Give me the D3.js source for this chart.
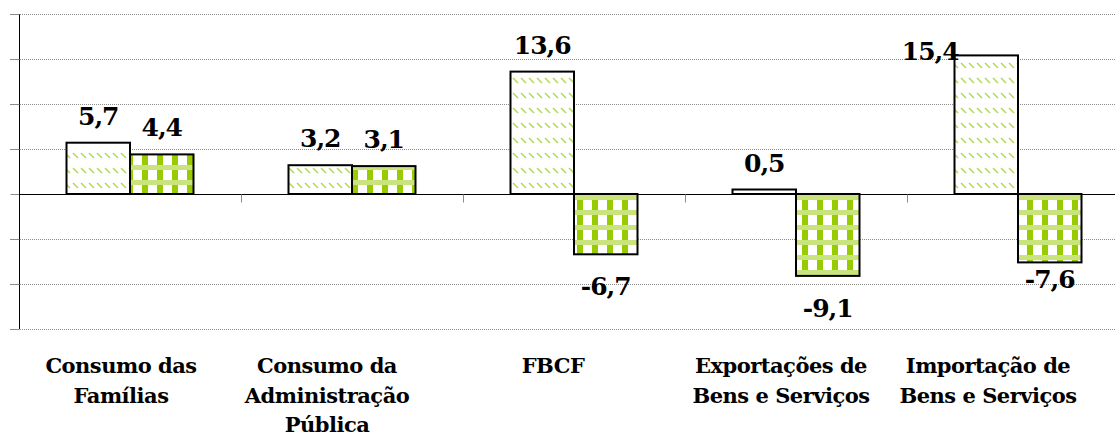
<!DOCTYPE html>
<html>
<head>
<meta charset="utf-8">
<script src="https://cdn.jsdelivr.net/npm/d3@7"></script>
<style>
  body { margin: 0; background: #fff; }
</style>
</head>
<body>
<script>
'use strict';

// chart data
const categories = ["Consumo das\nFamílias", "Consumo da\nAdministração\nPública", "FBCF",
  "Exportações de\nBens e Serviços", "Importação de\nBens e Serviços"];
const seriesNames = ["s1", "s2"];
const series1 = [5.7, 3.2, 13.6, 0.5, 15.4];
const series2 = [4.4, 3.1, -6.7, -9.1, -7.6];
const yTicks = [-15, -10, -5, 0, 5, 10, 15, 20];

(function () {

  let svgContainer = "";
  const labelFont = "'DejaVu Serif', serif";

  window.onload = function () {
    svgContainer = d3.select('body')
      .append('svg')
      .attr('width', 1115)
      .attr('height', 436);

    makePatterns();
    let map = drawAxes();
    plotData(map);
    makeLabels(map);
  }

  // fill patterns like the excel ones
  function makePatterns() {
    let defs = svgContainer.append('defs');

    let diag = defs.append('pattern')
      .attr('id', 'diag')
      .attr('patternUnits', 'userSpaceOnUse')
      .attr('width', 8)
      .attr('height', 15);
    diag.append('rect').attr('width', 8).attr('height', 15).attr('fill', '#fff');
    diag.append('line')
      .attr('x1', 1).attr('y1', 3).attr('x2', 6).attr('y2', 8)
      .attr('stroke', '#b5da55')
      .attr('stroke-width', 1.6);

    let plaid = defs.append('pattern')
      .attr('id', 'plaid')
      .attr('patternUnits', 'userSpaceOnUse')
      .attr('width', 15)
      .attr('height', 15);
    plaid.append('rect').attr('width', 15).attr('height', 15).attr('fill', '#fff');
    plaid.append('rect').attr('x', 7).attr('width', 6).attr('height', 15).attr('fill', '#99cc00');
    plaid.append('rect').attr('y', 0).attr('width', 15).attr('height', 5).attr('fill', '#c9e47d');
  }

  function drawAxes() {
    let yScale = d3.scaleLinear()
      .domain([-15, 20])
      .range([329, 14]);

    let x0 = d3.scaleBand()
      .domain(categories)
      .range([19, 1129])
      .padding(0);

    let x1 = d3.scaleBand()
      .domain(seriesNames)
      .range([0, x0.bandwidth()])
      .paddingInner(0)
      .paddingOuter(0.748);

    // dotted gridlines
    svgContainer.append('g')
      .selectAll('line')
      .data(yTicks.filter(t => t !== 0))
      .enter()
      .append('line')
      .attr('x1', 10)
      .attr('x2', 1115)
      .attr('y1', d => Math.round(yScale(d)) + 0.5)
      .attr('y2', d => Math.round(yScale(d)) + 0.5)
      .attr('stroke', '#8c8c8c')
      .attr('stroke-width', 1)
      .attr('stroke-dasharray', '1,1');

    // left axis without labels
    let yAxis = d3.axisLeft(yScale).tickValues(yTicks).tickSize(9).tickFormat('');
    let gy = svgContainer.append('g')
      .attr('transform', 'translate(19.5, 0)')
      .call(yAxis);
    gy.select('.domain').attr('stroke', '#000').attr('d', 'M0,' + yScale(20) + 'V' + yScale(-15));
    gy.selectAll('.tick line').attr('stroke', '#8c8c8c');

    return { y: yScale, x0: x0, x1: x1 };
  }

  function plotData(map) {
    let rows = [];
    categories.forEach((c, i) => {
      rows.push({ cat: c, s: 's1', v: series1[i], i: i });
      rows.push({ cat: c, s: 's2', v: series2[i], i: i });
    });

    svgContainer.append('g')
      .selectAll('rect')
      .data(rows)
      .enter()
      .append('rect')
      .attr('x', d => map.x0(d.cat) + map.x1(d.s))
      .attr('y', d => map.y(Math.max(0, d.v)))
      .attr('width', map.x1.bandwidth())
      .attr('height', d => Math.abs(map.y(d.v) - map.y(0)))
      .attr('fill', d => d.s === 's1' ? 'url(#diag)' : 'url(#plaid)')
      .attr('stroke', '#000')
      .attr('stroke-width', 2);

    // zero line and category ticks
    let y0 = Math.round(map.y(0)) + 0.5;
    svgContainer.append('line')
      .attr('x1', 19).attr('x2', 1115)
      .attr('y1', y0).attr('y2', y0)
      .attr('stroke', '#000');

    svgContainer.append('g')
      .selectAll('line')
      .data(categories.slice(0, 4))
      .enter()
      .append('line')
      .attr('x1', d => Math.round(map.x0(d) + map.x0.bandwidth()) + 0.5)
      .attr('x2', d => Math.round(map.x0(d) + map.x0.bandwidth()) + 0.5)
      .attr('y1', y0)
      .attr('y2', y0 + 8)
      .attr('stroke', '#8c8c8c');

    // value labels, a couple were moved by hand in the original
    let nudge = { '4s1': [-56, 23], '4s2': [0, -15] };
    svgContainer.append('g')
      .selectAll('text')
      .data(rows)
      .enter()
      .append('text')
      .attr('x', d => map.x0(d.cat) + map.x1(d.s) + map.x1.bandwidth() / 2 + (nudge[d.i + d.s] || [0, 0])[0])
      .attr('y', d => (d.v >= 0 ? map.y(d.v) - 18 : map.y(d.v) + 41) + (nudge[d.i + d.s] || [0, 0])[1])
      .attr('text-anchor', 'middle')
      .attr('font-family', labelFont)
      .attr('font-weight', 'bold')
      .attr('font-size', 25)
      .attr('letter-spacing', -1)
      .text(d => d.v.toFixed(1).replace('.', ','));
  }

  // category names under the plot
  function makeLabels(map) {
    let shift = [-9, -25, -21, -15, -30];
    let g = svgContainer.append('g');
    categories.forEach((c, i) => {
      let cx = map.x0(c) + map.x0.bandwidth() / 2 + shift[i];
      let t = g.append('text')
        .attr('text-anchor', 'middle')
        .attr('x', cx)
        .attr('y', 373)
        .attr('font-family', labelFont)
        .attr('font-weight', 'bold')
        .attr('font-size', 21)
        .attr('letter-spacing', -0.5);
      c.split('\n').forEach((line, j) => {
        t.append('tspan')
          .attr('x', cx)
          .attr('dy', j === 0 ? 0 : 29.5)
          .text(line);
      });
    });
  }
})();
</script>
</body>
</html>
